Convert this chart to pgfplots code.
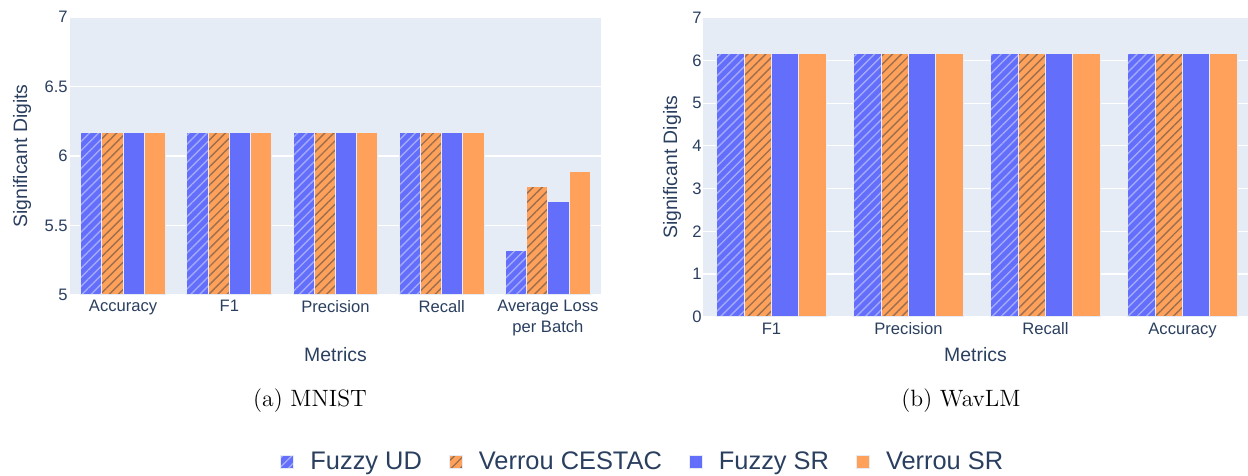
\documentclass[border=0pt]{standalone}
\usepackage{fontspec}
\usepackage{pgfplots}
\usepackage{pgfplotstable}
\pgfplotsset{compat=1.18}
\usetikzlibrary{patterns.meta}
\newfontfamily\plotfont{Liberation Sans}
\definecolor{cblue}{HTML}{636EFA}
\definecolor{corange}{HTML}{FFA15A}
\definecolor{cbg}{HTML}{E5ECF6}
\definecolor{ctext}{HTML}{2A3F5F}
\definecolor{udhatch}{HTML}{A4AAFA}
\definecolor{cehatch}{HTML}{9A6E4E}

\pgfplotstableread{
x ud cestac sr vsr
0 6.17 6.17 6.17 6.17
1 6.17 6.17 6.17 6.17
2 6.17 6.17 6.17 6.17
3 6.17 6.17 6.17 6.17
4 5.32 5.78 5.67 5.89
}\mnist

\pgfplotstableread{
x ud cestac sr vsr
0 6.17 6.17 6.17 6.17
1 6.17 6.17 6.17 6.17
2 6.17 6.17 6.17 6.17
3 6.17 6.17 6.17 6.17
}\wavlm

\pgfplotsset{
  udstyle/.style={fill=cblue, draw=cbg, line width=0.5pt,
    postaction={pattern={Lines[angle=45,distance=3.2pt,line width=0.7pt]}, pattern color=udhatch}},
  cestyle/.style={fill=corange, draw=cbg, line width=0.5pt,
    postaction={pattern={Lines[angle=45,distance=3.2pt,line width=0.7pt]}, pattern color=cehatch}},
  srstyle/.style={fill=cblue, draw=cbg, line width=0.5pt},
  vsrstyle/.style={fill=corange, draw=cbg, line width=0.5pt},
  plotly/.style={
    scale only axis,
    axis background/.style={fill=cbg},
    axis line style={draw=none},
    tick style={draw=none},
    major tick length=0pt,
    ymajorgrids,
    grid style={white, line width=0.6pt},
    ybar=0pt, bar width=0.2,
    tick label style={font=\plotfont\fontsize{8.3}{10.5}\selectfont, text=ctext},
    /pgf/number format/assume math mode=true,
    xticklabel style={anchor=north, yshift=-2.4pt, align=center, inner sep=0pt},
    yticklabel style={anchor=east, inner sep=0pt, xshift=-1pt},
  },
}

\begin{document}
\begin{tikzpicture}
\path[use as bounding box] (0pt,0pt) rectangle (624pt,-238pt);

% (a) MNIST
\begin{axis}[plotly,
  at={(35pt,-8.5pt)}, anchor=north west,
  width=265.5pt, height=139pt,
  xmin=-0.5, xmax=4.5, ymin=5, ymax=7,
  xtick={0,1,2,3,4},
  xticklabels={Accuracy, F1, Precision, Recall, {Average Loss\\per Batch}},
  ytick={5,5.5,6,6.5,7},
  xlabel={Metrics}, ylabel={Significant Digits},
  every axis x label/.style={at={(axis description cs:0.5,-0.2158)}, anchor=center,
    font=\plotfont\fontsize{9.7}{11}\selectfont, text=ctext},
  every axis y label/.style={at={(axis description cs:-0.0904,0.5)}, anchor=center, rotate=90,
    font=\plotfont\fontsize{9.7}{11}\selectfont, text=ctext},
]
\addplot[udstyle, bar shift=-0.3] table[x=x, y=ud] {\mnist};
\addplot[cestyle, bar shift=-0.1] table[x=x, y=cestac] {\mnist};
\addplot[srstyle, bar shift=0.1] table[x=x, y=sr] {\mnist};
\addplot[vsrstyle, bar shift=0.3] table[x=x, y=vsr] {\mnist};
\end{axis}

% (b) WavLM
\begin{axis}[plotly,
  at={(351.5pt,-8.85pt)}, anchor=north west,
  width=272.5pt, height=149.5pt,
  xmin=-0.5, xmax=3.478, ymin=0, ymax=7,
  xtick={0,1,2,3},
  xticklabels={F1, Precision, Recall, Accuracy},
  xticklabel style={yshift=-0.5pt},
  ytick={0,1,2,3,4,5,6,7},
  yticklabel style={xshift=0.5pt},
  xlabel={Metrics}, ylabel={Significant Digits},
  every axis x label/.style={at={(axis description cs:0.5,-0.128)}, anchor=center,
    font=\plotfont\fontsize{9.7}{11}\selectfont, text=ctext},
  every axis y label/.style={at={(axis description cs:-0.0569,0.5)}, anchor=center, rotate=90,
    font=\plotfont\fontsize{9.7}{11}\selectfont, text=ctext},
  legend columns=4,
  legend style={at={(axis description cs:-0.7761,-0.486)}, anchor=west,
    draw=none, fill=none, inner sep=0pt,
    font=\plotfont\fontsize{12.7}{14}\selectfont, text=ctext,
    nodes={inner sep=0pt},
    /tikz/every even column/.append style={column sep=13.5pt}},
  legend image code/.code={\draw[#1] (0pt,-3.25pt) rectangle (6.5pt,3.25pt); \path (14.5pt,0pt);},
]
\addplot[udstyle, bar shift=-0.3] table[x=x, y=ud] {\wavlm};
\addplot[cestyle, bar shift=-0.1] table[x=x, y=cestac] {\wavlm};
\addplot[srstyle, bar shift=0.1] table[x=x, y=sr] {\wavlm};
\addplot[vsrstyle, bar shift=0.3] table[x=x, y=vsr] {\wavlm};
\legend{Fuzzy UD, Verrou CESTAC, Fuzzy SR, Verrou SR}
\end{axis}

\node[font=\fontsize{11.8}{14}\selectfont, anchor=base] at (155pt,-203pt) {(a) MNIST};
\node[font=\fontsize{11.8}{14}\selectfont, anchor=base] at (480.5pt,-203pt) {(b) WavLM};
\end{tikzpicture}
\end{document}
